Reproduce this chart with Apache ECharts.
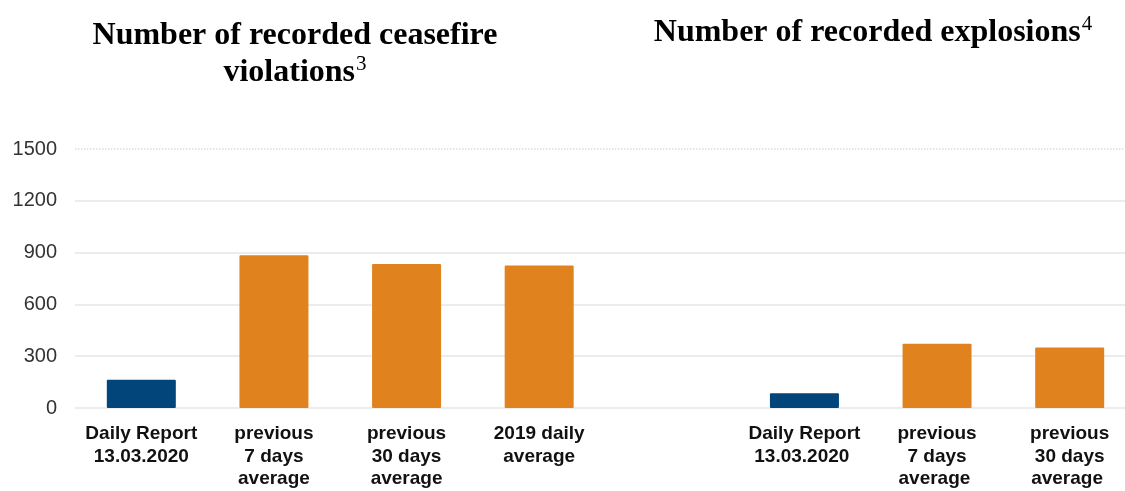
<!DOCTYPE html>
<html>
<head>
<meta charset="utf-8">
<script src="https://cdn.jsdelivr.net/npm/echarts@6/dist/echarts.min.js"></script>
<style>
html,body{margin:0;padding:0;background:#fff;}
#chart{width:1125px;height:491px;}
</style>
</head>
<body>
<div id="chart"></div>
<script>
const categories = [
  "Daily Report\n13.03.2020",
  "previous\n7 days\naverage",
  "previous\n30 days\naverage",
  "2019 daily\naverage",
  "",
  "Daily Report\n13.03.2020 ",
  "previous\n7 days\naverage ",
  "previous\n30 days\naverage "
];
const dailyValues   = [164, null, null, null, null, 85, null, null];
const averageValues = [null, 884, 834, 826, null, null, 372, 351];
const yTicks = [0, 300, 600, 900, 1200, 1500];
const titleLeft = "Number of recorded ceasefire";
const titleLeft2 = "violations";
const titleRight = "Number of recorded explosions";

const chart = echarts.init(document.getElementById('chart'), null, {renderer: 'canvas'});
const serif = '"Liberation Serif", "Times New Roman", serif';
const sans = '"Liberation Sans", Arial, sans-serif';
const titleRich = {
  t: {fontFamily: serif, fontWeight: 'bold', fontSize: 32, color: '#000', lineHeight: 37},
  s: {fontFamily: serif, fontWeight: 'normal', fontSize: 21, color: '#000', lineHeight: 37, verticalAlign: 'top', padding: [0,0,0,1]}
};

chart.setOption({
  animation: false,
  backgroundColor: '#fff',
  title: [
    {
      text: '{t|' + titleLeft + '}\n{t|' + titleLeft2 + '}{s|3}',
      left: 290, top: 12, textAlign: 'center',
      textStyle: {rich: titleRich}
    },
    {
      text: '{t|' + titleRight + '}{s|4}',
      left: 868, top: 9, textAlign: 'center',
      textStyle: {rich: titleRich}
    }
  ],
  grid: {left: 75, top: 149, width: 1061, height: 259, containLabel: false, outerBoundsMode: 'none'},
  xAxis: {
    type: 'category',
    data: categories,
    axisLine: {show: false},
    axisTick: {show: false},
    axisLabel: {
      interval: 0, margin: 15,
      fontFamily: sans, fontWeight: 'bold', fontSize: 19, color: '#111', lineHeight: 22.5
    }
  },
  yAxis: {
    type: 'value',
    min: yTicks[0], max: yTicks[yTicks.length - 1], interval: yTicks[1] - yTicks[0],
    axisLine: {show: false},
    axisTick: {show: false},
    axisLabel: {fontFamily: sans, fontSize: 20, color: '#333', margin: 18, formatter: function (v) { return String(v); }},
    splitLine: {lineStyle: {color: ['#e6e6e6','#e6e6e6','#e6e6e6','#e6e6e6','#e6e6e6','rgba(0,0,0,0)'], width: 1.5}}
  },
  series: [
    {
      type: 'bar', stack: 'v', data: dailyValues, barWidth: 69,
      itemStyle: {color: '#02457b', borderRadius: 1},
      markLine: {
        silent: true, symbol: 'none', label: {show: false},
        lineStyle: {color: '#dcdcdc', type: 'dotted', width: 1.5},
        data: [{yAxis: yTicks[yTicks.length - 1]}]
      }
    },
    {
      type: 'bar', stack: 'v', data: averageValues, barWidth: 69,
      itemStyle: {color: '#e0831f', borderRadius: 1}
    }
  ]
});
</script>
</body>
</html>
